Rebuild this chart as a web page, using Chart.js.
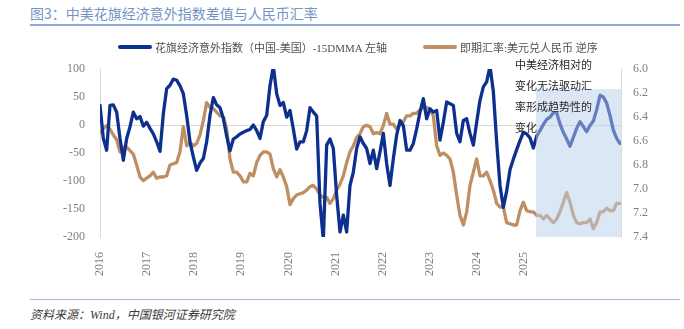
<!DOCTYPE html>
<html>
<head>
<meta charset="utf-8">
<script src="https://cdn.jsdelivr.net/npm/chart.js@4/dist/chart.umd.min.js"></script>
<style>
  html, body { margin: 0; padding: 0; background: #fff; }
  #wrap { position: relative; width: 684px; height: 329px; overflow: hidden; }
  #title { position: absolute; left: 30px; top: 3px; font: 14px "Noto Sans CJK SC", sans-serif; color: #7493c6; white-space: nowrap; }
  #titleRule { position: absolute; left: 30px; top: 24px; width: 650px; height: 2px; background: #8eaad6; }
  #legend { position: absolute; left: 0; top: 39px; width: 684px; height: 16px; font: 11px "Liberation Serif", "Noto Sans CJK SC", serif; color: #505050; z-index: 2; }
  .item { position: absolute; top: 0; height: 16px; display: flex; align-items: center; white-space: nowrap; }
  .swatch { width: 34px; height: 4px; margin-right: 3px; border-radius: 2px; }
  #note { position: absolute; left: 515px; top: 54px; font: 11px "Noto Sans CJK SC", sans-serif; line-height: 21px; color: #262626; z-index: 2; }
  #srcRule { position: absolute; left: 30px; top: 299px; width: 650px; height: 1px; background: #a3b8dc; }
  #source { position: absolute; left: 30px; top: 305px; font: italic 12px "Liberation Serif", "Noto Sans CJK SC", serif; color: #3a3a3a; white-space: nowrap; }
  #chart { position: absolute; left: 0; top: 0; z-index: 1; }
</style>
</head>
<body>
<div id="wrap">
  <div id="title">图3：中美花旗经济意外指数差值与人民币汇率</div>
  <div id="titleRule"></div>
  <div id="legend"></div>
  <canvas id="chart" width="684" height="329"></canvas>
  <div id="note"></div>
  <div id="srcRule"></div>
  <div id="source">资料来源：Wind，中国银河证券研究院</div>
</div>
<script>
// Year labels along the bottom axis (one every tickSpacing samples)
const xTickLabels = ['2016','2017','2018','2019','2020','2021','2022','2023','2024','2025'];
const tickSpacing = 14.13;

// Series labels
const seriesLabels = ['花旗经济意外指数（中国-美国）-15DMMA 左轴', '即期汇率:美元兑人民币 逆序'];

// Citi economic surprise index spread (China - US), 15-day moving average, left axis
const blueSurprise = [
  35,-24,-45,35,36,23,-24,-63,-24,-3,23,11,15,-2,5,-6,-16,-30,-47,20,
  65,71,82,80,70,56,17,-30,-57,-81,-68,-60,-30,17,49,36,31,12,-20,-46,
  -25,-21,-16,-13,-10,-8,0,-10,-24,6,17,70,105,
  56,35,40,14,26,-7,-43,-30,-30,-10,31,23,16,-140,-205,-36,-25,-42,-126,-191,
  -161,-191,-108,-84,-42,-21,-33,-42,-69,-45,-78,-48,-15,-69,-108,-60,-18,8,-1,-45,
  -45,-33,-7,23,47,11,29,23,26,-27,5,
  41,
  38,35,-15,-30,8,11,-15,-36,5,44,68,77,105,60,-30,-108,-147,-118,-80,-61,
  -44,-28,-13,-16,-23,-41,-20,-10,1,10,14,22,22,2,-13,-25,-38,-22,-6,6,
  -3,-12,-1,7,27,53,50,39,17,-9,-24,-33
];

// USD/CNY spot rate, right axis (reversed)
const brownFx = [
  6.53,6.50,6.47,6.50,6.55,6.59,6.69,6.65,6.65,6.68,6.71,6.80,6.90,6.93,6.91,6.89,6.86,6.91,6.90,6.90,
  6.89,6.80,6.79,6.78,6.69,6.48,6.64,6.61,6.64,6.62,6.55,6.43,6.28,6.32,6.33,6.36,6.39,6.40,6.50,6.75,
  6.86,6.86,6.89,6.94,6.94,6.87,6.89,6.78,6.72,6.69,6.69,6.71,6.83,
  6.90,6.84,6.90,6.98,7.13,7.08,7.05,7.04,7.03,7.01,6.98,6.97,7.00,7.05,7.07,7.07,7.12,7.08,7.01,6.96,
  6.89,6.78,6.69,6.64,6.57,6.54,6.48,6.47,6.48,6.54,6.53,6.54,6.47,6.37,6.46,6.46,6.50,6.47,6.44,6.39,
  6.39,6.37,6.37,6.34,6.32,6.32,6.34,6.39,6.64,6.72,6.70,
  6.72,
  6.75,6.86,7.05,7.22,7.30,7.19,6.97,6.86,6.75,6.89,6.89,6.86,6.93,7.01,7.12,7.15,7.15,7.28,7.29,7.30,
  7.30,7.18,7.11,7.18,7.19,7.19,7.22,7.22,7.25,7.22,7.25,7.28,7.25,7.19,7.11,7.03,7.11,7.22,7.28,7.29,
  7.28,7.28,7.25,7.33,7.28,7.19,7.19,7.16,7.18,7.18,7.12,7.12
];

// Highlighted recent period (sample index where it starts, and its top on the left axis)
const shadeStartIndex = 130.8;
const shadeTopValue = 64;

// Annotation lines
const noteLines = ['中美经济相对的', '变化无法驱动汇', '率形成趋势性的', '变化'];

const blueColor = '#0d2f8e';
const brownColor = '#bf8e62';
const tickFont = { family: 'Liberation Serif', size: 12 };
const tickColor = '#7f7f7f';
const axisLine = '#d9d9d9';

const toPoints = arr => arr.map((v, i) => ({ x: i, y: v }));

const shadePlugin = {
  id: 'shade',
  afterDatasetsDraw(chart) {
    const { ctx, chartArea, scales } = chart;
    const left = scales.x.getPixelForValue(shadeStartIndex);
    const top = scales.y.getPixelForValue(shadeTopValue);
    ctx.save();
    ctx.fillStyle = 'rgba(185,208,236,0.5)';
    ctx.fillRect(left, top, chartArea.right - left, chartArea.bottom - top);
    ctx.restore();
  }
};

const chart = new Chart(document.getElementById('chart'), {
  type: 'line',
  data: {
    datasets: [
      { label: seriesLabels[0], data: toPoints(blueSurprise), yAxisID: 'y',
        borderColor: blueColor, borderWidth: 3.3, pointRadius: 0, tension: 0,
        borderJoinStyle: 'round', borderCapStyle: 'round' },
      { label: seriesLabels[1], data: toPoints(brownFx), yAxisID: 'y2',
        borderColor: brownColor, borderWidth: 3.3, pointRadius: 0, tension: 0,
        borderJoinStyle: 'round', borderCapStyle: 'round' }
    ]
  },
  options: {
    responsive: false,
    animation: false,
    devicePixelRatio: 1,
    layout: { padding: { top: 69, left: 0, right: 0, bottom: 0 } },
    plugins: { legend: { display: false }, tooltip: { enabled: false } },
    scales: {
      x: {
        type: 'linear', min: 0, max: 156.3,
        grid: { display: false }, border: { display: false },
        afterBuildTicks: s => { s.ticks = xTickLabels.map((_, i) => ({ value: i * tickSpacing })); },
        ticks: { autoSkip: false, minRotation: 90, maxRotation: 90, padding: 7,
                 color: tickColor, font: tickFont,
                 callback: (v, i) => xTickLabels[i] },
        afterFit: s => { s.height = 92; }
      },
      y: {
        position: 'left', min: -200, max: 100,
        ticks: { stepSize: 50, color: tickColor, font: tickFont, padding: 15 },
        grid: { drawTicks: false, lineWidth: 1,
                color: c => (c.tick && c.tick.value === 0) ? axisLine : 'rgba(0,0,0,0)' },
        border: { display: true, color: axisLine },
        afterFit: s => { s.width = 100; }
      },
      y2: {
        position: 'right', min: 6.0, max: 7.4, reverse: true,
        ticks: { stepSize: 0.2, color: tickColor, font: tickFont, padding: 12,
                 callback: v => Number(v).toFixed(1) },
        grid: { display: false, drawTicks: false },
        border: { display: true, color: axisLine },
        afterFit: s => { s.width = 63; }
      }
    }
  },
  plugins: [shadePlugin]
});

// Legend built from the datasets
const legendEl = document.getElementById('legend');
const legendLeft = [118, 423];
chart.data.datasets.forEach((ds, i) => {
  const item = document.createElement('div');
  item.className = 'item';
  item.style.left = legendLeft[i] + 'px';
  const sw = document.createElement('span');
  sw.className = 'swatch';
  sw.style.background = ds.borderColor;
  const tx = document.createElement('span');
  tx.textContent = ds.label;
  item.appendChild(sw);
  item.appendChild(tx);
  legendEl.appendChild(item);
});

// Annotation text
const noteEl = document.getElementById('note');
noteLines.forEach(line => {
  const d = document.createElement('div');
  d.textContent = line;
  noteEl.appendChild(d);
});
</script>
</body>
</html>
